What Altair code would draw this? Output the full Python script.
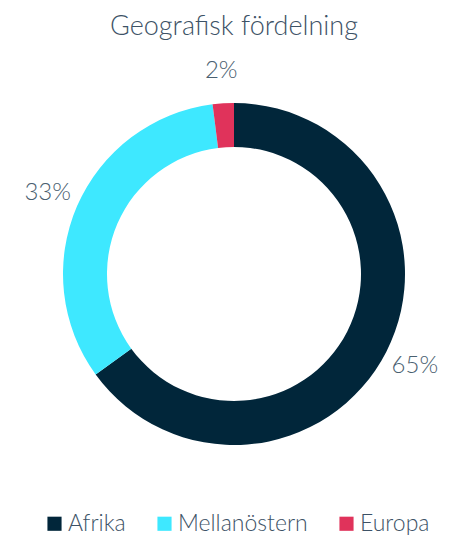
import altair as alt
import pandas as pd

regions = ["Afrika", "Mellanöstern", "Europa"]
shares = [65, 33, 2]
labels = ["65%", "33%", "2%"]
colors = ["#01263a", "#3ee8ff", "#e0335b"]

df = pd.DataFrame({
    "region": regions,
    "share": shares,
    "label": labels,
    "order": list(range(len(regions))),
})

text_color = "#3d5266"

base = alt.Chart(df).encode(
    theta=alt.Theta("share:Q", stack=True),
    order=alt.Order("order:Q"),
)

arcs = base.mark_arc(outerRadius=171, innerRadius=127).encode(
    color=alt.Color(
        "region:N",
        scale=alt.Scale(domain=regions, range=colors),
        sort=regions,
        legend=alt.Legend(
            title=None,
            orient="none",
            legendX=30,
            legendY=438,
            direction="horizontal",
            symbolType="square",
            symbolSize=200,
            symbolStrokeWidth=0,
            symbolOpacity=1,
            labelFontSize=23,
            labelFont="Lato",
            labelFontWeight=300,
            labelColor=text_color,
            labelOffset=2,
            columnPadding=27,
        ),
    )
)

texts = base.mark_text(
    radius=203, fontSize=24, font="Lato", fontWeight=300, color="#4a6070"
).encode(text="label:N")

chart = (
    alt.layer(arcs, texts)
    .properties(
        width=442,
        height=400,
        title=alt.TitleParams(
            "Geografisk fördelning",
            fontSize=27,
            font="Lato",
            fontWeight=300,
            color=text_color,
            anchor="middle",
            offset=21,
            dy=3,
        ),
    )
    .configure_view(stroke=None)
)

chart.save("out.html", embed_options={"renderer": "svg", "actions": False})
